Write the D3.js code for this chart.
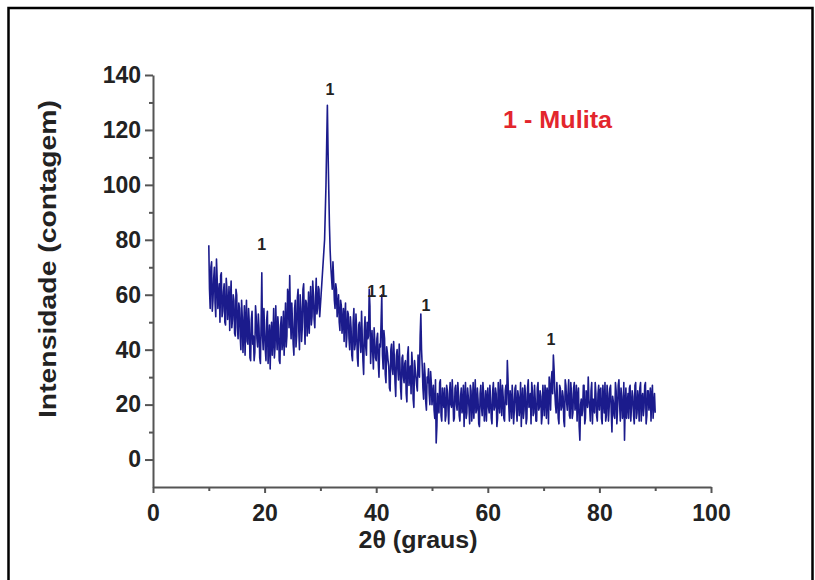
<!DOCTYPE html>
<html>
<head>
<meta charset="utf-8">
<script src="https://cdn.jsdelivr.net/npm/d3@7"></script>
<style>
  body { margin: 0; background: #fff; }
  svg { display: block; font-family: "Liberation Sans", Arial, sans-serif; }
</style>
</head>
<body>
<svg id="chart" width="815" height="580"></svg>
<script>
// diffraction pattern at 0.25 degree steps from 10 to 90
var angleStart = 10,
    angleStep = 0.25;

var counts = [
    78, 55, 72, 58, 70, 52, 66, 60, 50, 68, 54, 64, 49, 62, 56, 47, 65, 51, 58, 45,   // 10
    60, 44, 55, 40, 52, 47, 38, 58, 42, 50, 36, 54, 45, 39, 52, 41, 48, 35, 68, 40,   // 15
    47, 36, 54, 42, 33, 50, 44, 37, 56, 40, 48, 35, 52, 43, 38, 57, 45, 60, 67, 44,   // 20
    50, 38, 58, 45, 62, 40, 55, 48, 64, 42, 57, 50, 46, 63, 52, 60, 48, 66, 55, 62,   // 25
    56, 64, 72, 80, 100, 129, 98, 76, 66, 72, 58, 64, 52, 60, 47, 56, 50, 43, 57, 45, // 30
    53, 40, 48, 36, 55, 42, 47, 34, 50, 39, 45, 31, 52, 38, 44, 62, 35, 47, 33, 43,   // 35
    36, 46, 30, 41, 60, 33, 44, 28, 39, 34, 25, 42, 31, 37, 23, 40, 29, 35, 22, 38,   // 40
    28, 36, 21, 41, 30, 24, 35, 19, 33, 27, 38, 30, 53, 34, 22, 31, 18, 28, 24, 32,   // 45
    20, 27, 15, 6, 24, 17, 29, 14, 22, 26, 16, 25, 13, 28, 19, 23, 15, 27, 18, 24,    // 50
    14, 26, 19, 12, 28, 17, 23, 13, 25, 20, 15, 29, 18, 22, 12, 27, 16, 24, 19, 14,   // 55
    26, 17, 22, 13, 28, 19, 24, 15, 21, 29, 16, 23, 14, 27, 36, 20, 25, 15, 22, 18,   // 60
    27, 14, 23, 19, 12, 26, 18, 24, 15, 29, 20, 13, 25, 17, 22, 14, 28, 19, 23, 16,   // 65
    21, 27, 15, 24, 30, 18, 32, 38, 25, 17, 22, 13, 26, 19, 23, 12, 27, 18, 29, 15,   // 70
    24, 17, 28, 20, 14, 26, 7, 22, 18, 27, 15, 23, 30, 19, 25, 13, 21, 28, 16, 24,    // 75
    18, 26, 13, 22, 28, 16, 24, 19, 27, 10, 21, 15, 25, 18, 29, 14, 23, 17, 7, 26,    // 80
    20, 15, 27, 19, 23, 13, 28, 17, 22, 26, 14, 24, 19, 28, 16, 25, 21, 14, 27, 20,   // 85
    17                                                                                // 90
];

// in-between readings, 10.125 to 89.875
var countsMid = [
    62, 70, 54, 66, 57, 73, 55, 64, 67, 52, 61, 50, 66, 51, 63, 58, 48, 60, 46, 62,   // 10
    48, 57, 45, 58, 39, 56, 50, 43, 55, 37, 51, 42, 36, 56, 44, 53, 37, 50, 45, 55,   // 15
    40, 51, 35, 49, 45, 38, 55, 41, 46, 52, 36, 49, 40, 54, 47, 41, 62, 48, 52, 57,   // 20
    42, 55, 41, 59, 47, 60, 43, 62, 50, 58, 45, 61, 56, 49, 65, 51, 59, 53, 63, 52,   // 25
    60, 68, 76, 90, 115, 112, 85, 70, 62, 66, 55, 62, 56, 50, 58, 46, 55, 52, 41, 54, // 30
    44, 52, 38, 50, 40, 53, 37, 49, 43, 54, 36, 47, 41, 50, 45, 56, 42, 39, 48, 37,   // 35
    44, 35, 42, 50, 38, 47, 31, 41, 36, 26, 40, 33, 43, 28, 38, 33, 42, 26, 37, 30,   // 40
    35, 24, 38, 27, 34, 39, 22, 36, 30, 25, 33, 45, 40, 26, 35, 21, 30, 33, 20, 28,   // 45
    24, 18, 29, 12, 20, 28, 16, 26, 19, 14, 27, 18, 24, 20, 29, 14, 26, 20, 28, 16,   // 50
    23, 17, 27, 22, 15, 26, 19, 27, 14, 28, 22, 17, 26, 13, 24, 19, 28, 14, 25, 22,   // 55
    19, 27, 15, 25, 18, 26, 12, 28, 17, 22, 27, 15, 25, 20, 29, 14, 22, 27, 13, 26,   // 60
    18, 25, 16, 28, 21, 15, 27, 13, 26, 19, 24, 28, 16, 27, 14, 26, 18, 25, 13, 27,   // 65
    16, 24, 26, 13, 26, 29, 24, 33, 20, 28, 15, 27, 18, 25, 14, 29, 21, 24, 16, 28,   // 70
    15, 26, 18, 27, 23, 12, 20, 16, 27, 13, 25, 19, 22, 14, 28, 22, 17, 24, 14, 27,   // 75
    25, 15, 27, 17, 14, 27, 14, 26, 17, 23, 16, 28, 13, 27, 20, 26, 15, 28, 20, 15,   // 80
    24, 26, 14, 25, 16, 27, 15, 25, 14, 28, 22, 16, 27, 13, 25, 18, 26, 23, 15, 24    // 85
];

var xTicks = [0, 20, 40, 60, 80, 100],
    xMinor = [10, 30, 50, 70, 90],
    yTicks = [0, 20, 40, 60, 80, 100, 120, 140],
    yMinor = [10, 30, 50, 70, 90, 110, 130];

// mullite peak marks
var peakAngles = [31.7, 19.5, 39.2, 41.2, 48.9, 71.3],
    peakLabelY = [134.9, 78.4, 61.3, 61.3, 56.2, 43.9],
    peakLabels = ['1', '1', '1', '1', '1', '1'];

var legendText = '1 - Mulita';

var svg = d3.select('#chart');

// frame round the figure
svg.append('rect')
    .attr('x', 8.5)
    .attr('y', 8)
    .attr('width', 804)
    .attr('height', 620)
    .attr('fill', 'none')
    .attr('stroke', '#000')
    .attr('stroke-width', 2.5);

var x = d3.scaleLinear().domain([0, 100]).range([153, 711]),
    y = d3.scaleLinear().domain([-10, 140]).range([487, 75]);

// merge both sets of readings into one scan ordered by angle
var data = counts.map(function (c, i) {
    return {a: angleStart + i * angleStep, c: c};
}).concat(countsMid.map(function (c, i) {
    return {a: angleStart + angleStep / 2 + i * angleStep, c: c};
})).sort(function (p, q) { return p.a - q.a; });

var line = d3.line()
    .x(function (d) { return x(d.a); })
    .y(function (d) { return y(d.c); });

svg.append('path')
    .datum(data)
    .attr('d', line)
    .attr('fill', 'none')
    .attr('stroke', '#1b1b8c')
    .attr('stroke-width', 1.6)
    .attr('stroke-linejoin', 'round');

// axes
var axisColor = '#555';

svg.append('g')
    .attr('transform', 'translate(153,0)')
    .call(d3.axisLeft(y).tickValues(yTicks).tickSize(8).tickPadding(4).tickSizeOuter(0));

svg.append('g')
    .attr('transform', 'translate(153,0)')
    .call(d3.axisLeft(y).tickValues(yMinor).tickSize(4).tickFormat('').tickSizeOuter(0))
    .select('.domain').remove();

svg.append('g')
    .attr('transform', 'translate(0,487)')
    .call(d3.axisBottom(x).tickValues(xTicks).tickSize(6).tickPadding(12).tickSizeOuter(0));

svg.append('g')
    .attr('transform', 'translate(0,487)')
    .call(d3.axisBottom(x).tickValues(xMinor).tickSize(4).tickFormat('').tickSizeOuter(0))
    .select('.domain').remove();

svg.selectAll('.domain, .tick line')
    .attr('stroke', axisColor)
    .attr('stroke-width', 2);

svg.selectAll('.tick text')
    .attr('fill', '#222')
    .attr('font-size', 23)
    .attr('font-weight', 'bold')
    .attr('font-family', '"Liberation Sans", Arial, sans-serif');

// axis titles
svg.append('text')
    .attr('x', 418)
    .attr('y', 548)
    .attr('text-anchor', 'middle')
    .attr('font-size', 23)
    .attr('font-weight', 'bold')
    .attr('fill', '#222')
    .attr('textLength', 119)
    .attr('lengthAdjust', 'spacingAndGlyphs')
    .text('2\u03b8 (graus)');

svg.append('text')
    .attr('transform', 'translate(56,259) rotate(-90)')
    .attr('text-anchor', 'middle')
    .attr('font-size', 23)
    .attr('font-weight', 'bold')
    .attr('fill', '#222')
    .attr('textLength', 318)
    .attr('lengthAdjust', 'spacingAndGlyphs')
    .text('Intensidade (contagem)');

// peak labels
svg.selectAll('.peak').data(peakAngles)
    .enter()
    .append('text')
    .attr('class', 'peak')
    .attr('x', function (a) { return x(a); })
    .attr('y', function (a, i) { return y(peakLabelY[i]); })
    .attr('dy', '0.35em')
    .attr('text-anchor', 'middle')
    .attr('font-size', 16)
    .attr('font-weight', 'bold')
    .attr('fill', '#222')
    .text(function (a, i) { return peakLabels[i]; });

// legend
svg.append('text')
    .attr('x', 503)
    .attr('y', 128)
    .attr('font-size', 23)
    .attr('font-weight', 'bold')
    .attr('fill', '#e3262d')
    .attr('textLength', 109)
    .attr('lengthAdjust', 'spacingAndGlyphs')
    .text(legendText);
</script>
</body>
</html>
